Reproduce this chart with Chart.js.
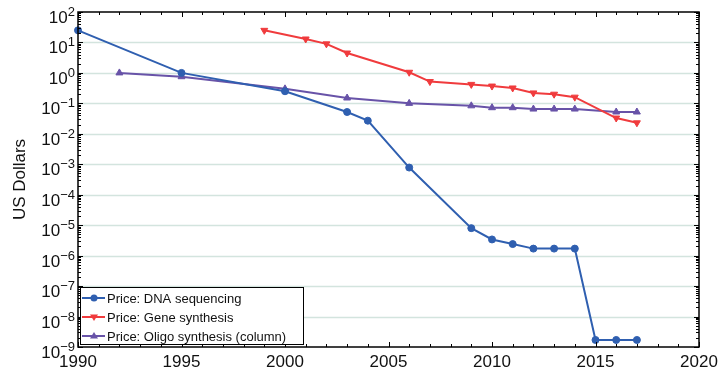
<!DOCTYPE html>
<html>
<head>
<meta charset="utf-8">
<script src="https://cdn.jsdelivr.net/npm/chart.js@4"></script>
<style>
  html, body { margin: 0; padding: 0; background: #fff; }
  #wrap { width: 727px; height: 382px; }
</style>
</head>
<body>
<div id="wrap"><canvas id="chart"></canvas></div>
<script>
// values
const seqYears = [1990, 1995, 2000, 2003, 2004, 2006, 2009, 2010, 2011, 2012, 2013, 2014, 2015, 2016, 2017];
const seqPrice = [25, 1.0, 0.25, 0.052, 0.027, 0.00078, 8e-6, 3.4e-6, 2.4e-6, 1.7e-6, 1.7e-6, 1.7e-6, 1.7e-9, 1.7e-9, 1.7e-9];

const geneYears = [1999, 2001, 2002, 2003, 2006, 2007, 2009, 2010, 2011, 2012, 2013, 2014, 2016, 2017];
const genePrice = [25, 13, 9, 4.5, 1.05, 0.52, 0.42, 0.37, 0.32, 0.22, 0.2, 0.16, 0.033, 0.023];

const oligoYears = [1992, 1995, 2000, 2003, 2006, 2009, 2010, 2011, 2012, 2013, 2014, 2016, 2017];
const oligoPrice = [1.0, 0.75, 0.3, 0.15, 0.1, 0.083, 0.072, 0.072, 0.065, 0.065, 0.065, 0.052, 0.052];

const seriesNames = ['Price: DNA sequencing', 'Price: Gene synthesis', 'Price: Oligo synthesis (column)'];
const xTickLabels = [1990, 1995, 2000, 2005, 2010, 2015, 2020];
const yExponents = [2, 1, 0, -1, -2, -3, -4, -5, -6, -7, -8, -9];

function toPoints(xs, ys) {
  return xs.map((x, i) => ({ x: x, y: ys[i] }));
}

const FONT = '"Liberation Sans", Arial, Helvetica, sans-serif';

const axesPlugin = {
  id: 'axesPlugin',
  beforeDatasetsDraw(chart) {
    const ctx = chart.ctx;
    const a = chart.chartArea;
    const ys = chart.scales.y;
    ctx.save();
    ctx.strokeStyle = '#d3e4de';
    ctx.lineWidth = 1.5;
    yExponents.forEach(e => {
      if (e === 2 || e === -9) return;
      const py = Math.round(ys.getPixelForValue(Math.pow(10, e))) + 0.5;
      ctx.beginPath();
      ctx.moveTo(a.left, py);
      ctx.lineTo(a.right, py);
      ctx.stroke();
    });
    ctx.restore();
  },
  afterDraw(chart) {
    const ctx = chart.ctx;
    const a = chart.chartArea;
    const xs = chart.scales.x;
    const ys = chart.scales.y;
    ctx.save();

    // frame
    ctx.strokeStyle = '#000';
    ctx.lineWidth = 1.5;
    ctx.strokeRect(a.left, a.top, a.right - a.left, a.bottom - a.top);

    // year ticks on top and bottom
    ctx.lineWidth = 1;
    for (let yr = 1990; yr <= 2020; yr++) {
      const px = Math.round(xs.getPixelForValue(yr)) + 0.5;
      const len = yr % 5 === 0 ? 5 : 3;
      ctx.beginPath();
      ctx.moveTo(px, a.bottom); ctx.lineTo(px, a.bottom - len);
      ctx.moveTo(px, a.top); ctx.lineTo(px, a.top + len);
      ctx.stroke();
    }

    // log ticks on left and right
    for (let e = -9; e <= 2; e++) {
      for (let m = 1; m <= 9; m++) {
        if (e === 2 && m > 1) break;
        const py = Math.round(ys.getPixelForValue(m * Math.pow(10, e))) + 0.5;
        const len = m === 1 ? 5 : 3;
        ctx.beginPath();
        ctx.moveTo(a.left, py); ctx.lineTo(a.left + len, py);
        ctx.moveTo(a.right, py); ctx.lineTo(a.right - len, py);
        ctx.stroke();
      }
    }

    // y tick labels 10^n
    ctx.fillStyle = '#111';
    ctx.textBaseline = 'alphabetic';
    yExponents.forEach(e => {
      const py = ys.getPixelForValue(Math.pow(10, e));
      const sup = String(e).replace('-', '\u2212');
      ctx.font = '13px ' + FONT;
      const supW = ctx.measureText(sup).width;
      ctx.textAlign = 'right';
      ctx.fillText(sup, a.left - 3, py + 4);
      ctx.font = '17px ' + FONT;
      ctx.fillText('10', a.left - 3 - supW, py + 11);
    });

    // legend box
    const lx = a.left + 2, ly = 287, lw = 223, lh = 57;
    ctx.fillStyle = '#fff';
    ctx.fillRect(lx, ly, lw, lh);
    ctx.strokeStyle = '#000';
    ctx.lineWidth = 1;
    ctx.strokeRect(lx + 0.5, ly + 0.5, lw, lh);
    ctx.font = '13px ' + FONT;
    ctx.textAlign = 'left';
    ctx.textBaseline = 'middle';
    chart.data.datasets.forEach((ds, i) => {
      const cy = ly + 11 + i * 19;
      ctx.strokeStyle = ds.borderColor;
      ctx.fillStyle = ds.borderColor;
      ctx.lineWidth = 2;
      ctx.beginPath();
      ctx.moveTo(lx + 2, cy); ctx.lineTo(lx + 25, cy);
      ctx.stroke();
      const mx = lx + 14;
      ctx.beginPath();
      if (ds.pointStyle === 'circle') {
        ctx.arc(mx, cy, 3.5, 0, Math.PI * 2);
      } else if (ds.pointRotation === 180) {
        ctx.moveTo(mx - 4, cy - 2.5); ctx.lineTo(mx + 4, cy - 2.5); ctx.lineTo(mx, cy + 4);
      } else {
        ctx.moveTo(mx - 4, cy + 2.5); ctx.lineTo(mx + 4, cy + 2.5); ctx.lineTo(mx, cy - 4);
      }
      ctx.closePath();
      ctx.fill();
      ctx.fillStyle = '#111';
      ctx.fillText(ds.label, lx + 27, cy + 1);
    });

    ctx.restore();
  }
};

const ctx = document.getElementById('chart').getContext('2d');
const myChart = new Chart(ctx, {
  type: 'line',
  data: {
    datasets: [{
      label: seriesNames[0],
      data: toPoints(seqYears, seqPrice),
      borderColor: '#2f5fb0',
      backgroundColor: '#2f5fb0',
      borderWidth: 2,
      pointStyle: 'circle',
      pointRadius: 3.5,
      pointBorderWidth: 1,
      clip: false
    }, {
      label: seriesNames[1],
      data: toPoints(geneYears, genePrice),
      borderColor: '#f03b3d',
      backgroundColor: '#f03b3d',
      borderWidth: 2,
      pointStyle: 'triangle',
      pointRotation: 180,
      pointRadius: 4,
      pointBorderWidth: 1,
      clip: false
    }, {
      label: seriesNames[2],
      data: toPoints(oligoYears, oligoPrice),
      borderColor: '#6853a8',
      backgroundColor: '#6853a8',
      borderWidth: 2,
      pointStyle: 'triangle',
      pointRadius: 4,
      pointBorderWidth: 1,
      clip: false
    }]
  },
  options: {
    responsive: true,
    maintainAspectRatio: false,
    animation: false,
    layout: { padding: { top: 12, right: 28, left: 0, bottom: 0 } },
    plugins: {
      legend: { display: false },
      tooltip: { enabled: false }
    },
    scales: {
      x: {
        type: 'linear',
        min: 1990,
        max: 2020,
        afterFit: s => { s.height = 35; },
        afterBuildTicks: s => { s.ticks = xTickLabels.map(v => ({ value: v })); },
        grid: { display: false, drawTicks: false },
        border: { display: false },
        ticks: {
          color: '#111',
          padding: 5,
          maxRotation: 0,
          font: { family: FONT, size: 17 },
          callback: v => String(v)
        }
      },
      y: {
        type: 'logarithmic',
        min: 1e-9,
        max: 100,
        afterFit: s => { s.width = 78; },
        grid: { display: false, drawTicks: false },
        border: { display: false },
        ticks: { display: false },
        title: {
          display: true,
          text: 'US Dollars',
          color: '#111',
          padding: { top: 10, bottom: 0 },
          font: { family: FONT, size: 17 }
        }
      }
    }
  },
  plugins: [axesPlugin]
});
</script>
</body>
</html>
